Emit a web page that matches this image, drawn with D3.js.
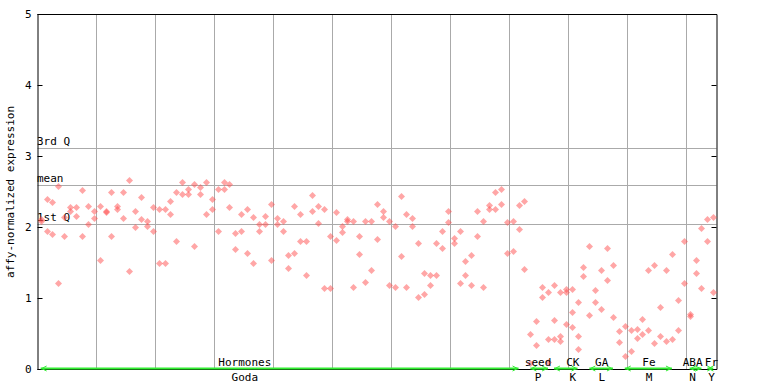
<!DOCTYPE html>
<html><head><meta charset="utf-8">
<script src="https://cdn.jsdelivr.net/npm/d3@7"></script>
<style>
html,body{margin:0;padding:0;background:#fff;}
text{font-family:"DejaVu Sans Mono",monospace;font-size:11px;fill:#000;}
</style></head>
<body><svg id="chart" width="768" height="384"></svg>
<script>
// ---- data (one slot per experiment, up to 3 replicates) ----
const rep1 = [2.11,2.39,2.35,2.58,2.14,2.28,2.28,2.52,2.29,2.23,
  2.29,2.22,2.50,2.29,2.49,2.66,2.23,2.42,2.09,2.28,
  2.26,2.26,2.36,2.49,2.64,2.54,2.60,2.56,2.63,2.40,
  2.53,2.64,2.60,1.92,2.19,2.26,2.14,2.04,2.15,2.33,
  2.12,2.08,1.60,2.30,2.18,1.80,2.45,2.29,2.25,1.88,
  2.21,2.02,2.11,2.09,1.88,2.09,2.08,2.33,2.22,2.09,
  2.02,2.43,2.18,2.12,1.77,1.35,1.33,1.77,1.95,2.22,
  1.84,1.95,1.52,1.60,2.23,2.08,2.31,2.49,2.54,2.07,
  2.08,2.31,2.36,0.50,0.67,1.16,1.08,1.18,1.08,1.12,
  1.12,0.94,1.43,1.73,1.11,1.40,1.70,1.46,0.53,0.60,
  0.55,0.57,0.70,1.40,1.47,0.87,1.39,1.62,0.97,1.80,
  0.77,1.53,1.98,2.11,2.14];
const rep2 = [2.09,1.94,1.90,1.21,1.87,2.23,2.15,1.87,2.04,2.12,
  1.54,2.21,1.88,2.26,2.12,1.38,2.00,2.11,2.01,1.94,
  1.49,1.50,2.18,1.80,2.46,2.47,1.73,2.47,2.18,2.26,
  1.94,2.54,2.28,1.69,1.95,1.63,1.50,1.95,2.04,1.54,
  2.04,1.95,1.42,1.64,1.80,1.32,2.23,2.05,1.14,1.14,
  1.81,1.93,2.08,1.15,1.62,1.22,1.39,1.83,2.14,1.19,
  1.15,1.59,1.15,2.01,1.02,1.05,1.19,1.32,1.70,2.07,
  1.77,1.21,1.32,1.19,1.87,1.16,2.25,2.26,2.33,1.63,
  1.66,1.97,1.41,0.09,0.34,1.01,0.42,0.69,0.47,1.08,
  0.80,0.46,1.31,0.76,0.94,0.84,1.26,0.73,0.38,0.18,
  0.25,0.43,0.49,0.55,0.36,0.46,0.39,0.42,0.55,1.21,
  0.74,1.35,1.14,1.80,1.09];
const rep3 = {86:0.10, 87:0.42, 88:0.39, 89:0.64, 90:0.59, 91:0.28};

const statLabels = ["3rd Q","mean","1st Q"];
const statValues = [3.11, 2.59, 2.04];

const groupTop    = ["Hormones","seed","CK","GA","Fe","ABA","Fr"];
const groupBottom = ["Goda","P","K","L","M","N","Y"];
const groupStart  = [0, 83, 87, 93, 99, 110, 113];
const groupEnd    = [81, 86, 91, 97, 107, 112, 114];
const groupLabelSlot = [35.1, 84.8, 90.7, 95.6, 103.6, 111.0, 114.2];

const yTicks = [0,1,2,3,4,5];
const nSlots = rep1.length;

// ---- drawing ----
const svg = d3.select("#chart");
const L = 37.5, R = 716.5, T = 14, B = 369;
const x = d3.scaleLinear().domain([0, nSlots]).range([37.7, 716.2]);
const y = d3.scaleLinear().domain([0, 5]).range([B, T]);
const px = v => Math.round(v) + 0.5;

const defs = svg.append("defs");
const pat = defs.append("pattern").attr("id","chk").attr("patternUnits","userSpaceOnUse")
  .attr("width",2).attr("height",2);
pat.append("rect").attr("x",0).attr("y",0).attr("width",1).attr("height",1).attr("fill","#ff4d4d");
pat.append("rect").attr("x",1).attr("y",1).attr("width",1).attr("height",1).attr("fill","#ff4d4d");

// vertical grid
const gx = d3.range(10, nSlots, 10);
svg.append("g").selectAll("line").data(gx).join("line")
  .attr("x1", d => px(x(d)-0.5)).attr("x2", d => px(x(d)-0.5))
  .attr("y1", T).attr("y2", B)
  .attr("stroke","#aaaaaa").attr("stroke-width",1);

// stat lines
svg.append("g").selectAll("line").data(statValues).join("line")
  .attr("x1", L).attr("x2", R)
  .attr("y1", d => px(y(d))).attr("y2", d => px(y(d)))
  .attr("stroke","#aaaaaa").attr("stroke-width",1);
svg.append("g").selectAll("text").data(statValues).join("text")
  .attr("x", 37).attr("y", d => Math.round(y(d)) - 3)
  .text((d,i) => statLabels[i]);

// frame
svg.append("line").attr("x1",L).attr("x2",R).attr("y1",T+0.5).attr("y2",T+0.5).attr("stroke","#000");
svg.append("line").attr("x1",L).attr("x2",R).attr("y1",B+0.5).attr("y2",B+0.5).attr("stroke","#000");

const axL = svg.append("g").attr("transform",`translate(${L},0)`)
  .call(d3.axisLeft(y).tickValues(yTicks).tickSize(-5).tickPadding(6).tickFormat(d3.format("d")));
const axR = svg.append("g").attr("transform",`translate(${R},0)`)
  .call(d3.axisRight(y).tickValues(yTicks).tickSize(-5).tickFormat(""));
[axL, axR].forEach(a => {
  a.select(".domain").attr("stroke","#000");
  a.selectAll(".tick line").attr("stroke","#000");
  a.selectAll("text").attr("font-family","DejaVu Sans Mono").attr("font-size",11);
});
axL.selectAll(".tick").attr("transform", d => `translate(0,${px(y(d))})`);
axR.selectAll(".tick").attr("transform", d => `translate(0,${px(y(d))})`);

// y title
svg.append("text").attr("transform","translate(14,192) rotate(-90)")
  .attr("text-anchor","middle").text("affy-normalized expression");

// points
const pts = [];
rep1.forEach((v,i) => pts.push({i, v}));
rep2.forEach((v,i) => pts.push({i, v}));
Object.entries(rep3).forEach(([i,v]) => pts.push({i:+i, v}));
const dia = "M0,-3.5L3.5,0L0,3.5L-3.5,0Z";
svg.append("g").selectAll("path").data(pts).join("path")
  .attr("d", dia)
  .attr("transform", d => `translate(${px(x(d.i+0.5))},${px(y(d.v))})`)
  .attr("fill","url(#chk)");

// group segments
const green = "#33ee33";
const gg = svg.append("g");
groupTop.forEach((g,k) => {
  const x0 = x(groupStart[k]+0.5), x1 = x(groupEnd[k]+0.5);
  gg.append("line").attr("x1",x0).attr("x2",x1).attr("y1",368.5).attr("y2",368.5)
    .attr("stroke",green).attr("stroke-width",2);
  gg.append("path").attr("d",`M${x0+6},366L${x0+1},368.5L${x0+6},371`)
    .attr("fill","none").attr("stroke",green).attr("stroke-width",1);
  gg.append("path").attr("d",`M${x1-6},366L${x1-1},368.5L${x1-6},371`)
    .attr("fill","none").attr("stroke",green).attr("stroke-width",1);
  const lx = x(groupLabelSlot[k]);
  gg.append("text").attr("x",lx).attr("y",366).attr("text-anchor","middle").text(g);
  gg.append("text").attr("x",lx).attr("y",381).attr("text-anchor","middle").text(groupBottom[k]);
});
</script></body></html>
